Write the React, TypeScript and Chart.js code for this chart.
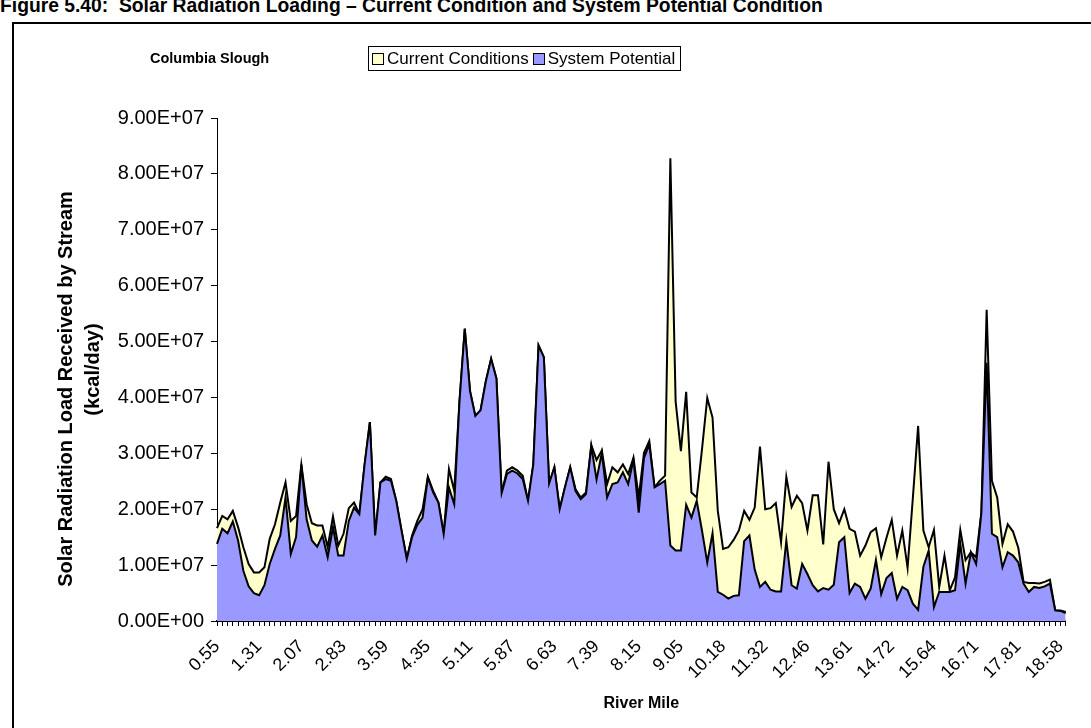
import React, { useEffect, useRef } from "react";
import { Chart, registerables } from "chart.js";

Chart.register(...registerables);

const riverMileTicks = [
  "0.55", "1.31", "2.07", "2.83", "3.59", "4.35", "5.11", "5.87", "6.63", "7.39", "8.15",
  "9.05", "10.18", "11.32", "12.46", "13.61", "14.72", "15.64", "16.71", "17.81", "18.58",
];

const currentConditions = [
  1.66e7, 1.88e7, 1.82e7, 1.97e7, 1.68e7, 1.32e7, 1.02e7, 0.87e7, 0.87e7, 0.96e7,
  1.47e7, 1.73e7, 2.12e7, 2.48e7, 1.79e7, 1.88e7, 2.80e7, 2.09e7, 1.75e7, 1.71e7,
  1.71e7, 1.32e7, 1.87e7, 1.35e7, 1.56e7, 2.02e7, 2.12e7, 1.91e7, 2.80e7, 3.56e7,
  1.53e7, 2.48e7, 2.58e7, 2.54e7, 2.15e7, 1.62e7, 1.11e7, 1.53e7, 1.79e7, 2.00e7,
  2.58e7, 2.33e7, 2.12e7, 1.56e7, 2.72e7, 2.33e7, 3.93e7, 5.23e7, 4.11e7, 3.67e7,
  3.77e7, 4.29e7, 4.69e7, 4.34e7, 2.29e7, 2.69e7, 2.75e7, 2.69e7, 2.60e7, 2.15e7,
  2.80e7, 4.93e7, 4.72e7, 2.46e7, 2.75e7, 2.00e7, 2.39e7, 2.75e7, 2.36e7, 2.21e7,
  2.30e7, 3.15e7, 2.88e7, 3.05e7, 2.45e7, 2.75e7, 2.66e7, 2.80e7, 2.63e7, 2.92e7,
  2.21e7, 3.01e7, 3.22e7, 2.39e7, 2.51e7, 2.60e7, 8.28e7, 3.93e7, 3.04e7, 4.10e7,
  2.30e7, 2.21e7, 3.07e7, 3.99e7, 3.64e7, 1.97e7, 1.29e7, 1.32e7, 1.45e7, 1.62e7,
  1.97e7, 1.81e7, 2.03e7, 3.12e7, 2.00e7, 2.02e7, 2.11e7, 1.41e7, 2.58e7, 2.04e7,
  2.24e7, 2.11e7, 1.62e7, 2.25e7, 2.25e7, 1.37e7, 2.85e7, 2.00e7, 1.75e7, 2.00e7,
  1.65e7, 1.60e7, 1.17e7, 1.35e7, 1.59e7, 1.66e7, 1.14e7, 1.49e7, 1.81e7, 1.17e7,
  1.62e7, 0.95e7, 2.20e7, 3.49e7, 1.62e7, 1.32e7, 1.63e7, 0.61e7, 1.17e7, 0.55e7,
  0.78e7, 1.63e7, 1.09e7, 1.23e7, 1.14e7, 1.94e7, 5.57e7, 2.51e7, 2.21e7, 1.38e7,
  1.73e7, 1.60e7, 1.31e7, 0.70e7, 0.68e7, 0.68e7, 0.67e7, 0.70e7, 0.74e7, 0.19e7,
  0.19e7, 0.16e7,
];

const systemPotential = [
  1.38e7, 1.65e7, 1.57e7, 1.78e7, 1.44e7, 0.90e7, 0.62e7, 0.50e7, 0.46e7, 0.64e7,
  1.02e7, 1.29e7, 1.53e7, 2.21e7, 1.20e7, 1.50e7, 2.80e7, 1.82e7, 1.44e7, 1.33e7,
  1.53e7, 1.14e7, 1.68e7, 1.17e7, 1.17e7, 1.79e7, 2.03e7, 1.91e7, 2.80e7, 3.56e7,
  1.53e7, 2.48e7, 2.54e7, 2.51e7, 2.15e7, 1.62e7, 1.11e7, 1.50e7, 1.72e7, 1.85e7,
  2.57e7, 2.30e7, 2.12e7, 1.56e7, 2.39e7, 2.09e7, 3.93e7, 5.23e7, 4.11e7, 3.67e7,
  3.77e7, 4.29e7, 4.69e7, 4.34e7, 2.29e7, 2.63e7, 2.69e7, 2.64e7, 2.54e7, 2.15e7,
  2.80e7, 4.93e7, 4.72e7, 2.46e7, 2.75e7, 2.00e7, 2.39e7, 2.75e7, 2.33e7, 2.18e7,
  2.27e7, 3.13e7, 2.53e7, 3.01e7, 2.21e7, 2.45e7, 2.48e7, 2.66e7, 2.45e7, 2.89e7,
  1.94e7, 2.92e7, 3.16e7, 2.39e7, 2.45e7, 2.51e7, 1.35e7, 1.26e7, 1.26e7, 2.08e7,
  1.85e7, 2.15e7, 1.62e7, 1.05e7, 1.57e7, 0.52e7, 0.47e7, 0.40e7, 0.45e7, 0.46e7,
  1.43e7, 1.53e7, 0.92e7, 0.61e7, 0.70e7, 0.56e7, 0.53e7, 0.53e7, 1.44e7, 0.64e7,
  0.58e7, 1.02e7, 0.84e7, 0.64e7, 0.53e7, 0.59e7, 0.56e7, 0.65e7, 1.41e7, 1.50e7,
  0.50e7, 0.67e7, 0.61e7, 0.40e7, 0.58e7, 1.09e7, 0.48e7, 0.77e7, 0.86e7, 0.40e7,
  0.61e7, 0.55e7, 0.31e7, 0.20e7, 0.97e7, 1.26e7, 0.25e7, 0.52e7, 0.52e7, 0.52e7,
  0.55e7, 1.38e7, 0.67e7, 1.23e7, 1.02e7, 1.94e7, 4.62e7, 1.56e7, 1.50e7, 0.96e7,
  1.23e7, 1.17e7, 1.05e7, 0.67e7, 0.52e7, 0.61e7, 0.59e7, 0.62e7, 0.67e7, 0.19e7,
  0.18e7, 0.14e7,
];

const LABEL_EVERY = 8;
const categories = currentConditions.map((_, i) =>
  i % LABEL_EVERY === 0 ? riverMileTicks[i / LABEL_EVERY] ?? "" : ""
);

const seriesNames = ["Current Conditions", "System Potential"];
const seriesColors = ["#FFFFCC", "#9999FF"];

const FONT = "'Liberation Sans', Arial, sans-serif";

function sci(v: number): string {
  if (v === 0) return "0.00E+00";
  const e = Math.floor(Math.log10(v) + 1e-9);
  const m = v / Math.pow(10, e);
  return m.toFixed(2) + "E+" + String(e).padStart(2, "0");
}

export default function App() {
  const ref = useRef<HTMLCanvasElement | null>(null);

  useEffect(() => {
    if (!ref.current) return;
    const chart = new Chart(ref.current, {
      type: "line",
      data: {
        labels: categories,
        datasets: [
          {
            label: seriesNames[0],
            data: currentConditions,
            backgroundColor: seriesColors[0],
            borderColor: "#000000",
            borderWidth: 2,
            fill: "origin",
            pointRadius: 0,
            tension: 0,
            order: 2,
          },
          {
            label: seriesNames[1],
            data: systemPotential,
            backgroundColor: seriesColors[1],
            borderColor: "#000000",
            borderWidth: 2,
            fill: "origin",
            pointRadius: 0,
            tension: 0,
            order: 1,
          },
        ],
      },
      options: {
        animation: false,
        responsive: false,
        devicePixelRatio: 1,
        layout: { padding: { left: 0, top: 118, right: 17, bottom: 0 } },
        plugins: {
          legend: { display: false },
          tooltip: { enabled: false },
          title: { display: false },
        },
        scales: {
          x: {
            type: "category",
            offset: false,
            grid: {
              display: true,
              drawOnChartArea: false,
              drawTicks: true,
              tickLength: 5,
              color: "#000000",
            },
            border: { display: true, color: "#000000", width: 2 },
            ticks: {
              autoSkip: false,
              maxRotation: 45,
              minRotation: 45,
              color: "#000000",
              font: { family: FONT, size: 18 },
              padding: 10,
              labelOffset: 0,
              callback: (_v: any, i: number) => categories[i],
            },
            title: {
              display: true,
              text: "River Mile",
              color: "#000000",
              font: { family: FONT, size: 16, weight: "bold" },
              padding: { top: 0, bottom: 15 },
            },
            afterFit: (scale: any) => {
              scale.height = 107;
            },
          },
          y: {
            min: 0,
            max: 9e7,
            grid: {
              display: true,
              drawOnChartArea: false,
              drawTicks: true,
              tickLength: 6,
              color: "#000000",
            },
            border: { display: true, color: "#000000", width: 1 },
            ticks: {
              stepSize: 1e7,
              color: "#000000",
              font: { family: FONT, size: 20 },
              padding: 7,
              callback: (v: any) => sci(Number(v)),
            },
            title: {
              display: true,
              text: ["Solar Radiation Load Received by Stream       ", "(kcal/day)"],
              color: "#000000",
              font: { family: FONT, size: 20, weight: "bold", lineHeight: 1.35 },
              padding: { top: 53, bottom: 0 },
            },
            afterFit: (scale: any) => {
              scale.width = 217;
            },
          },
        },
      },
    });
    return () => chart.destroy();
  }, []);

  return (
    <div
      style={{
        position: "fixed",
        left: 0,
        top: 0,
        width: 1091,
        height: 728,
        background: "#ffffff",
        overflow: "hidden",
        fontFamily: FONT,
      }}
    >
      <div
        style={{
          position: "absolute",
          left: 0,
          top: -4,
          fontSize: 19.3,
          fontWeight: "bold",
          lineHeight: "19px",
          whiteSpace: "pre",
          color: "#000",
        }}
      >
        Figure 5.40:  Solar Radiation Loading – Current Condition and System Potential Condition
      </div>
      <div
        style={{
          position: "absolute",
          left: 12,
          top: 22,
          width: 1200,
          height: 800,
          border: "2px solid #000",
        }}
      />
      <canvas
        ref={ref}
        width={1091}
        height={728}
        style={{ position: "absolute", left: 0, top: 0, width: 1091, height: 728 }}
      />
      <div
        style={{
          position: "absolute",
          left: 150,
          top: 48,
          fontSize: 14.5,
          fontWeight: "bold",
          lineHeight: "20px",
          whiteSpace: "nowrap",
          color: "#000",
        }}
      >
        Columbia Slough
      </div>
      <div
        style={{
          position: "absolute",
          left: 368,
          top: 46,
          width: 311,
          height: 23,
          border: "1px solid #000",
          display: "flex",
          alignItems: "center",
          fontSize: 17,
          color: "#000",
          whiteSpace: "nowrap",
          boxSizing: "content-box",
        }}
      >
        {seriesNames.map((name, k) => (
          <div key={name} style={{ display: "flex", alignItems: "center", marginLeft: k === 0 ? 3 : 4 }}>
            <span
              style={{
                display: "inline-block",
                width: 10,
                height: 10,
                border: "1px solid #000",
                background: seriesColors[k],
                marginRight: 3,
              }}
            />
            <span>{name}</span>
          </div>
        ))}
      </div>
    </div>
  );
}
